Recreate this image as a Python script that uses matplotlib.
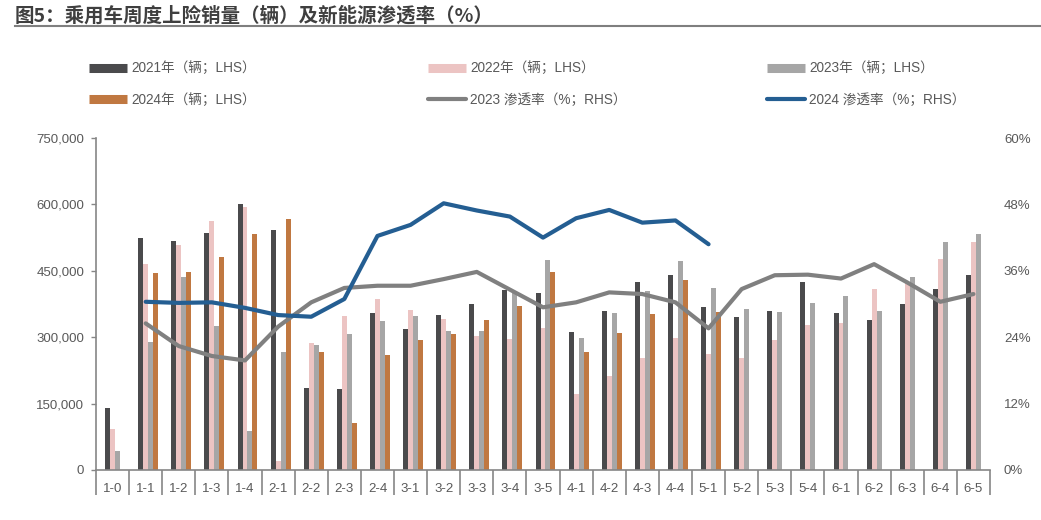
import numpy as np
import matplotlib
matplotlib.use('Agg')
import matplotlib.pyplot as plt
from matplotlib.lines import Line2D
from matplotlib.ticker import FuncFormatter, FixedLocator

plt.rcParams['font.family'] = ['Liberation Sans', 'Noto Sans CJK SC', 'DejaVu Sans']

weeks = ['1-0', '1-1', '1-2', '1-3', '1-4', '2-1', '2-2', '2-3', '2-4',
         '3-1', '3-2', '3-3', '3-4', '3-5', '4-1', '4-2', '4-3', '4-4',
         '5-1', '5-2', '5-3', '5-4', '6-1', '6-2', '6-3', '6-4', '6-5']
nan = np.nan
sales_2021 = [140000, 524000, 517000, 536000, 602000, 543000, 185000, 183000, 354000,
              319000, 350000, 375000, 407000, 400000, 312000, 360000, 425000, 440000,
              369000, 346000, 359000, 424000, 354000, 339000, 375000, 409000, 440000]
sales_2022 = [93000, 466000, 508000, 562000, 594000, 20000, 288000, 348000, 387000,
              362000, 342000, 302000, 295000, 321000, 172000, 213000, 252000, 299000,
              262000, 253000, 293000, 328000, 331000, 410000, 422000, 477000, 516000]
sales_2023 = [42000, 290000, 436000, 326000, 88000, 267000, 282000, 307000, 336000,
              349000, 313000, 315000, 400000, 475000, 298000, 355000, 404000, 473000,
              412000, 363000, 357000, 378000, 394000, 359000, 437000, 515000, 534000]
sales_2024 = [nan, 446000, 447000, 482000, 534000, 568000, 266000, 106000, 259000,
              294000, 307000, 339000, 371000, 448000, 267000, 309000, 353000, 429000,
              358000, nan, nan, nan, nan, nan, nan, nan, nan]
nev_2023 = [nan, 26.5, 22.4, 20.6, 19.8, 25.9, 30.3, 32.9, 33.3,
            33.3, 34.5, 35.8, 32.6, 29.4, 30.3, 32.1, 31.8, 30.3,
            25.6, 32.7, 35.2, 35.3, 34.6, 37.2, 33.9, 30.4, 31.8]
nev_2024 = [nan, 30.4, 30.2, 30.3, 29.3, 28.0, 27.7, 30.9, 42.3,
            44.3, 48.2, 46.9, 45.8, 42.0, 45.5, 47.0, 44.7, 45.1,
            40.8, nan, nan, nan, nan, nan, nan, nan, nan]

c21, c22, c23, c24 = '#4a4a4c', '#ecc4c3', '#a6a6a6', '#c07841'
cl23, cl24 = '#808080', '#245e92'
txt = '#595959'

fig = plt.figure(figsize=(10.41, 5.2), dpi=100)
ax = fig.add_axes([96 / 1041, 1 - 470 / 520, (990 - 96) / 1041, (470 - 138) / 520])
x = np.arange(len(weeks))
w = 0.15
for i, (vals, col) in enumerate([(sales_2021, c21), (sales_2022, c22),
                                 (sales_2023, c23), (sales_2024, c24)]):
    ax.bar(x + (i - 1) * w, vals, width=w, color=col, zorder=2)

ax.set_xlim(-0.5, len(weeks) - 0.5)
ax.set_ylim(0, 750000)
ax.set_yticks(np.arange(0, 750001, 150000))
ax.yaxis.set_major_formatter(FuncFormatter(lambda v, p: f'{int(v):,}'))
ax.set_xticks(x)
ax.set_xticklabels(weeks)
ax.xaxis.set_minor_locator(FixedLocator(np.arange(-0.5, len(weeks), 1.0)))
ax.tick_params(axis='x', which='major', length=0, pad=9, labelsize=9.5, labelcolor=txt)
ax.tick_params(axis='x', which='minor', length=18, width=1.2, color='#868686')
ax.tick_params(axis='y', length=3.5, width=1, color='#868686', pad=5, labelsize=9.5, labelcolor=txt)
for s in ['top', 'right']:
    ax.spines[s].set_visible(False)
for s in ['left', 'bottom']:
    ax.spines[s].set_color('#868686')
    ax.spines[s].set_linewidth(1.2)

ax2 = ax.twinx()
ax2.plot(x, nev_2023, color=cl23, lw=3, solid_capstyle='round', zorder=3)
ax2.plot(x, nev_2024, color=cl24, lw=3, solid_capstyle='round', zorder=4)
ax2.set_ylim(0, 60)
ax2.set_yticks(np.arange(0, 61, 12))
ax2.yaxis.set_major_formatter(FuncFormatter(lambda v, p: f'{int(v)}%'))
ax2.tick_params(axis='y', length=0, pad=10, labelsize=9.5, labelcolor=txt)
for s in ax2.spines.values():
    s.set_visible(False)

# title with underline
fig.text(15 / 1041, 1 - 16 / 520, '图5：乘用车周度上险销量（辆）及新能源渗透率（%）',
         fontsize=14, fontweight='bold', color='#3f3f3f', va='center', ha='left',
         family=['Noto Sans CJK SC', 'DejaVu Sans'])
fig.add_artist(Line2D([15 / 1041, 1], [1 - 25.5 / 520, 1 - 25.5 / 520], color='#7f7f7f', lw=1.5))

# legend, three columns
bar_h = lambda c: Line2D([], [], color=c, lw=6.5, solid_capstyle='butt')
line_h = lambda c: Line2D([], [], color=c, lw=3, solid_capstyle='round')
cols = [
    (89, [bar_h(c21), bar_h(c24)], ['2021年（辆；LHS）', '2024年（辆；LHS）']),
    (428, [bar_h(c22), line_h(cl23)], ['2022年（辆；LHS）', '2023 渗透率（%；RHS）']),
    (767, [bar_h(c23), line_h(cl24)], ['2023年（辆；LHS）', '2024 渗透率（%；RHS）']),
]
for px, hs, ls in cols:
    lg = fig.legend(hs, ls, loc='upper left', bbox_to_anchor=(px / 1041, 1 - 61.5 / 520),
                    frameon=False, borderaxespad=0, borderpad=0, fontsize=9.8,
                    handlelength=2.8, handletextpad=0.3, labelspacing=1.3)
    for t in lg.get_texts():
        t.set_color(txt)

fig.savefig('out.png', dpi=100)
